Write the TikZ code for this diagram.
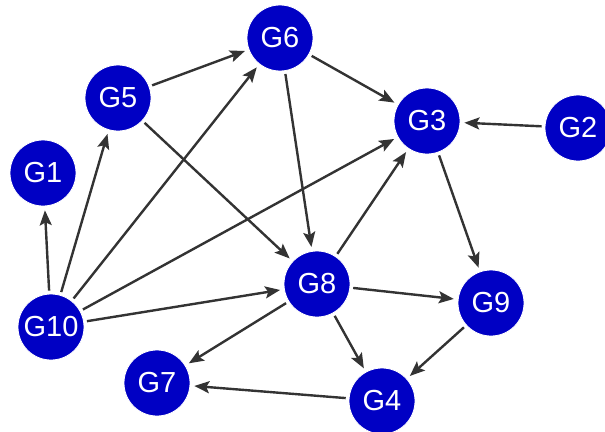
\documentclass[tikz,border=0pt]{standalone}
\usepackage{fontspec}
\setmainfont{Liberation Sans}
\usetikzlibrary{arrows.meta}
\definecolor{nodeblue}{RGB}{0,0,196}
\definecolor{edgegray}{RGB}{51,51,51}
\begin{document}
\begin{tikzpicture}[x=1pt,y=-1pt,
  gene/.style={circle,fill=nodeblue,draw=white,line width=0.8pt,minimum size=66pt,inner sep=0pt,text=white,font=\fontsize{29}{29}\selectfont},
  edge/.style={draw=edgegray,line width=2.4pt,-{Stealth[length=15pt,width=12pt,inset=3pt]},shorten >=4pt,shorten <=3pt}]
\clip (0,0) rectangle (605,431);
\useasboundingbox (0,0) rectangle (605,431);
\node[gene] (G6) at (280,38) {G6};
\node[gene] (G5) at (118,98) {G5};
\node[gene] (G1) at (43,173) {G1};
\node[gene] (G3) at (427,121) {G3};
\node[gene] (G2) at (578,128) {G2};
\node[gene] (G10) at (51,327) {G10};
\node[gene] (G7) at (157,383) {G7};
\node[gene] (G8) at (317,284) {G8};
\node[gene] (G9) at (491,303) {G9};
\node[gene] (G4) at (382,401) {G4};
\draw[edge] (G5) -- (G6);
\draw[edge] (G10) -- (G1);
\draw[edge] (G10) -- (G5);
\draw[edge] (G10) -- (G6);
\draw[edge] (G10) -- (G3);
\draw[edge] (G10) -- (G8);
\draw[edge] (G5) -- (G8);
\draw[edge] (G6) -- (G3);
\draw[edge] (G6) -- (G8);
\draw[edge] (G2) -- (G3);
\draw[edge] (G8) -- (G3);
\draw[edge] (G3) -- (G9);
\draw[edge] (G8) -- (G9);
\draw[edge] (G8) -- (G4);
\draw[edge] (G8) -- (G7);
\draw[edge] (G9) -- (G4);
\draw[edge] (G4) -- (G7);
\end{tikzpicture}
\end{document}
